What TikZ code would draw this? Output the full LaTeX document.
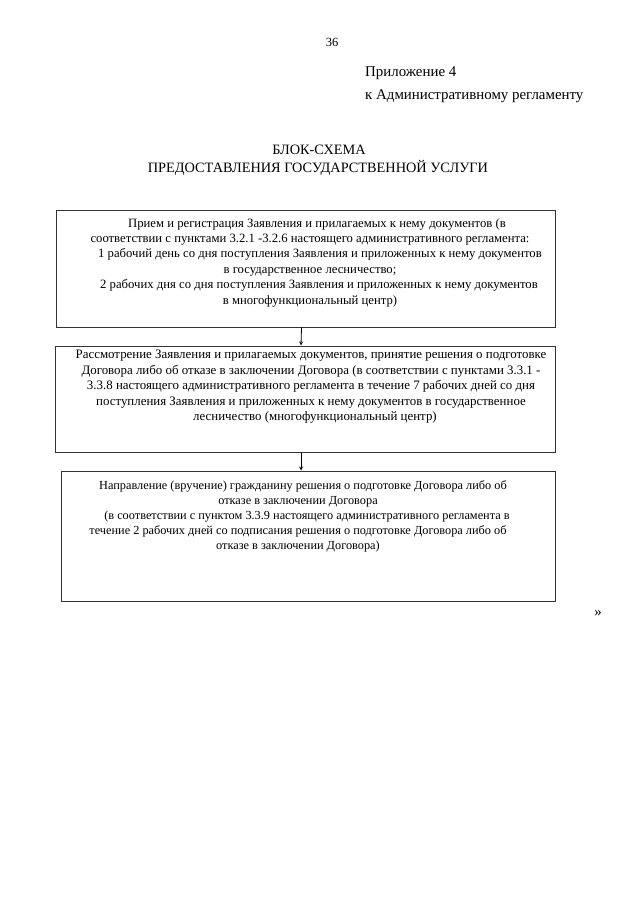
\documentclass[tikz,border=0pt]{standalone}
\usepackage{fontspec}
\setmainfont{Liberation Serif}
\usetikzlibrary{arrows,positioning}

\tikzset{
  stepbox/.style={draw=black!80, line width=1pt, rectangle, inner sep=0pt},
  boxtext/.style={align=center, inner sep=0pt, anchor=north,
    font=\fontsize{12.7}{15.4}\selectfont},
  headtext/.style={inner sep=0pt, font=\fontsize{14.9}{17}\selectfont}
}

\begin{document}
\begin{tikzpicture}[>=stealth, x=1pt, y=-1pt]
    \useasboundingbox[fill=white] (0,0) rectangle (640,905);
    % header
    \node[headtext, font=\fontsize{12.5}{15}\selectfont] (page) at (332,42) {36};
    \node[headtext, anchor=west] (app1) at (365,73) {Приложение 4};
    \node[headtext, anchor=west] (app2) at (365,96) {к Административному регламенту};
    \node[headtext, font=\fontsize{14.3}{17}\selectfont] (title1) at (319,150) {БЛОК-СХЕМА};
    \node[headtext, font=\fontsize{14.3}{17}\selectfont] (title2) at (318,168) {ПРЕДОСТАВЛЕНИЯ ГОСУДАРСТВЕННОЙ УСЛУГИ};
    % boxes
    \node[stepbox, minimum width=499pt, minimum height=117pt] (b1) at (305.5,268.5) {};
    \node[stepbox, minimum width=500pt, minimum height=106pt] (b2) at (305,399) {};
    \node[stepbox, minimum width=494pt, minimum height=130pt] (b3) at (308,536) {};
    \node[boxtext] (t1) at (310,218) {%
      \hspace*{14pt}Прием и регистрация Заявления и прилагаемых к нему документов (в\\
      соответствии с пунктами 3.2.1 -3.2.6 настоящего административного регламента:\\
      \hspace*{20pt}1 рабочий день со дня поступления Заявления и приложенных к нему документов\\
      в государственное лесничество;\\
      \hspace*{18pt}2 рабочих дня со дня поступления Заявления и приложенных к нему документов\\
      в многофункциональный центр)};
    \node[boxtext, font=\fontsize{12.9}{15.5}\selectfont] (t2) at (311,350) {%
      Рассмотрение Заявления и прилагаемых документов, принятие решения о подготовке\\
      Договора либо об отказе в заключении Договора (в соответствии с пунктами 3.3.1 -\\
      3.3.8 настоящего административного регламента в течение 7 рабочих дней со дня\\
      поступления Заявления и приложенных к нему документов в государственное\\
      \hspace*{8pt}лесничество (многофункциональный центр)};
    \node[boxtext, font=\fontsize{12.3}{15}\selectfont] (t3) at (298,480) {%
      \hspace*{10pt}Направление (вручение) гражданину решения о подготовке Договора либо об\\
      отказе в заключении Договора\\
      \hspace*{18pt}(в соответствии с пунктом 3.3.9 настоящего административного регламента в\\
      течение 2 рабочих дней со подписания решения о подготовке Договора либо об\\
      отказе в заключении Договора)};
    % arrows
    \draw[->, line width=0.8pt] ([xshift=-4pt]b1.south) -- ([xshift=-4pt]b2.north);
    \draw[->, line width=0.8pt] ([xshift=-4pt]b2.south) -- ([xshift=-7pt]b3.north);
    \node[headtext] (quote) at (598,613) {»};
  \end{tikzpicture}
\end{document}
